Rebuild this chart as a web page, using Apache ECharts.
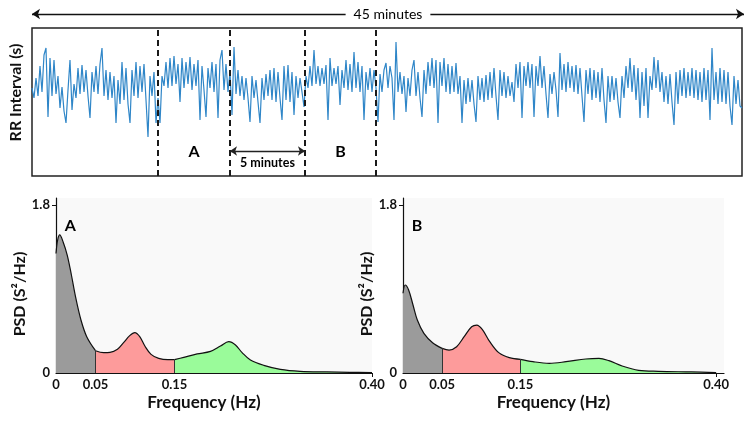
<!DOCTYPE html>
<html><head><meta charset="utf-8">
<script src="https://cdn.jsdelivr.net/npm/echarts@6/dist/echarts.min.js"></script>
<style>html,body{margin:0;padding:0;background:#fff}#c{width:750px;height:425px}</style>
</head><body><div id="c"></div>
<script>
// ---------- data ----------
const totalMinutes = 45;
const rrValues = [
88,78,98,80,110,84,121,128,59,118,
80,116,82,100,68,89,65,53,86,116,
66,92,78,108,82,111,84,106,80,58,
104,84,110,82,112,128,80,106,76,104,
78,100,53,96,72,114,76,108,72,53,
106,80,114,78,110,84,112,76,39,100,
80,104,53,78,53,100,90,114,88,118,
90,120,92,112,74,118,88,114,92,119,
86,112,90,116,56,110,86,59,108,88,
114,84,112,58,116,126,86,112,84,104,
61,129,82,106,80,100,76,98,78,54,
100,78,96,74,53,98,76,102,80,106,
76,108,74,104,78,56,110,76,111,74,
104,61,100,78,98,84,69,100,88,110,
90,126,92,110,90,108,92,111,56,118,
90,108,92,110,71,106,88,116,86,112,
84,124,88,114,84,110,56,104,86,108,
84,106,88,54,102,84,106,113,88,110,
98,56,134,84,104,82,100,64,98,80,
106,116,80,104,78,59,106,82,114,90,
118,88,116,53,114,90,118,84,112,82,
110,84,113,82,100,53,96,72,98,74,
96,72,54,100,76,98,74,101,76,104,
78,108,80,56,106,80,104,78,100,80,
94,74,112,88,114,58,110,90,114,88,
112,59,110,90,120,88,110,82,58,102,
82,104,86,59,123,86,112,84,114,88,
110,84,111,82,108,80,54,106,82,108,
76,106,78,104,74,108,76,53,100,74,
100,76,98,74,58,100,78,110,88,118,
84,111,76,108,58,104,70,108,58,100,
86,119,88,116,84,104,74,100,72,102,
74,51,104,72,106,80,108,78,104,80,
108,78,106,76,104,74,108,76,106,56,
128,76,104,72,108,74,106,72,104,70,
51,100,72,96,70,68];
const segmentBounds = [8.0, 12.55, 17.3, 21.8];   // minutes
const segmentNames = ['A', 'B'];
const headerText = '45 minutes';
const gapText = '5 minutes';

const freqA = [0,0.0021,0.0047,0.0089,0.0142,0.0195,0.0247,0.0316,0.0389,0.05,0.0604,0.0683,0.0778,0.0855,0.0933,0.0998,0.106,0.1125,0.1203,0.13,0.1415,0.15,0.1618,0.1787,0.1955,0.2082,0.2187,0.2272,0.2356,0.2461,0.263,0.284,0.309,0.343,0.372,0.40];
const psdA  = [1.28,1.425,1.479,1.407,1.264,1.05,0.818,0.568,0.389,0.239,0.218,0.221,0.254,0.325,0.40,0.432,0.389,0.289,0.20,0.157,0.143,0.143,0.168,0.204,0.232,0.289,0.336,0.30,0.218,0.139,0.082,0.039,0.018,0.011,0.007,0.004];
const freqB = [0,0.0028,0.0072,0.0128,0.0183,0.0267,0.0378,0.05,0.0588,0.0685,0.0781,0.0877,0.0942,0.1012,0.1108,0.1223,0.1358,0.15,0.166,0.1869,0.2082,0.2335,0.2503,0.263,0.2799,0.301,0.3263,0.3685,0.40];
const psdB  = [0.854,0.943,0.889,0.729,0.568,0.425,0.325,0.264,0.246,0.282,0.389,0.496,0.514,0.468,0.336,0.218,0.164,0.146,0.121,0.104,0.121,0.15,0.157,0.132,0.075,0.029,0.018,0.011,0.004];
const bandEdges = [0, 0.05, 0.15, 0.40];
const bandColors = ['#9b9b9b', '#fd9b9b', '#9afb9a'];
const xTickValues = [0, 0.05, 0.15, 0.40];
const yTickValues = [0, 1.8];

// ---------- build ----------
const FONT = 'Lato';
const stepMin = totalMinutes / (rrValues.length - 1);
const rrData = rrValues.map((v, i) => [i * stepMin, v]);
const mid = (a, b) => (a + b) / 2;
const HIDDEN = { color: 'rgba(0,0,0,0)', opacity: 1 };

const option = {
  animation: false,
  textStyle: { fontFamily: FONT },
  grid: [
    { left: 32, top: 28, width: 710, height: 148, show: true, borderColor: '#222', borderWidth: 1.5, backgroundColor: '#fff' },
    { left: 32, top: 4, width: 712, height: 20 },
    { left: 56, top: 198, width: 316, height: 175, show: true, backgroundColor: '#f9f9f9', borderWidth: 0 },
    { left: 403, top: 198, width: 321, height: 175, show: true, backgroundColor: '#f9f9f9', borderWidth: 0 }
  ],
  xAxis: [],
  yAxis: [],
  series: []
};

// top panel axes
option.xAxis.push({ type: 'value', gridIndex: 0, min: 0, max: totalMinutes, show: false });
option.yAxis.push({ type: 'value', gridIndex: 0, min: 0, max: 148, show: true,
  axisLine: { show: false }, axisTick: { show: false }, axisLabel: { show: false }, splitLine: { show: false },
  name: 'RR Interval (s)', nameLocation: 'middle', nameGap: 8,
  nameTextStyle: { fontSize: 16, fontWeight: 'bold', color: '#111', padding: [0, 0, 0, 19] } });
// header axes
option.xAxis.push({ type: 'value', gridIndex: 1, min: 0, max: totalMinutes, show: false });
option.yAxis.push({ type: 'value', gridIndex: 1, min: 0, max: 1, show: false });

function psdX(gi, max) {
  return { type: 'value', gridIndex: gi, min: 0, max: max,
    axisLine: { show: true, onZero: false, lineStyle: { color: '#111', width: 1.2 } },
    axisTick: { show: true, customValues: [0.40], length: 4, lineStyle: { color: '#111' } },
    axisLabel: { show: true, customValues: xTickValues, formatter: v => v === 0 ? '0' : v.toFixed(2),
      color: '#111', fontWeight: 'bold', fontSize: 13, margin: 5 },
    splitLine: { show: false },
    name: 'Frequency (Hz)', nameLocation: 'middle', nameGap: 21,
    nameTextStyle: { fontSize: 17, fontWeight: 'bold', color: '#111', padding: [0, 20, 0, 0] } };
}
function psdY(gi) {
  return { type: 'value', gridIndex: gi, min: 0, max: 1.875,
    axisLine: { show: true, onZero: false, lineStyle: { color: '#111', width: 1.2 } },
    axisTick: { show: true, customValues: [1.8], length: 4, lineStyle: { color: '#111' } },
    axisLabel: { show: true, customValues: yTickValues, formatter: v => v === 0 ? '0' : v.toFixed(1),
      color: '#111', fontWeight: 'bold', fontSize: 13, margin: 6 },
    splitLine: { show: false },
    name: 'PSD (S\u00B2/Hz)', nameLocation: 'middle', nameGap: 10,
    nameTextStyle: { fontSize: 16, fontWeight: 'bold', color: '#111', padding: [0, 17, 0, 0] } };
}
option.xAxis.push(psdX(2, 0.40));
option.yAxis.push(psdY(2));
option.xAxis.push(psdX(3, 0.41));
option.yAxis.push(psdY(3));

// RR trace with dashed segment bounds
option.series.push({
  type: 'line', xAxisIndex: 0, yAxisIndex: 0, data: rrData, symbol: 'none', silent: true, z: 2,
  lineStyle: { color: '#2f86c8', width: 1.2 },
  markLine: { silent: true, symbol: 'none', label: { show: false }, animation: false,
    lineStyle: { color: '#1a1a1a', width: 2, type: [6, 4] },
    data: segmentBounds.map(t => ({ xAxis: t })) }
});
// 5-minute double arrow
option.series.push({
  type: 'line', xAxisIndex: 0, yAxisIndex: 0, data: [[segmentBounds[1], 25]], symbol: 'none', silent: true,
  markLine: { silent: true, symbol: ['arrow', 'arrow'], symbolSize: 7, label: { show: false }, animation: false,
    lineStyle: { color: '#222', width: 1.3, type: 'solid' },
    data: [[{ coord: [segmentBounds[1], 25] }, { coord: [segmentBounds[2], 25] }]] }
});
// top-panel text labels
option.series.push({
  type: 'scatter', xAxisIndex: 0, yAxisIndex: 0, symbolSize: 1, silent: true, z: 5,
  itemStyle: HIDDEN,
  label: { show: true, position: 'inside', formatter: '{b}', color: '#000', fontWeight: 'bold', fontSize: 16, opacity: 1 },
  data: [
    { name: segmentNames[0], value: [mid(segmentBounds[0], segmentBounds[1]), 24] },
    { name: segmentNames[1], value: [mid(segmentBounds[2], segmentBounds[3]), 24] },
    { name: gapText, value: [mid(segmentBounds[1], segmentBounds[2]), 13], label: { fontSize: 12.5 } }
  ]
});
// header arrow
option.series.push({
  type: 'line', xAxisIndex: 1, yAxisIndex: 1, data: [[0, 0.5]], symbol: 'none', silent: true,
  markLine: { silent: true, symbol: ['arrow', 'arrow'], symbolSize: 8, label: { show: false }, animation: false,
    lineStyle: { color: '#111', width: 1.3, type: 'solid' },
    data: [[{ coord: [0, 0.5] }, { coord: [totalMinutes, 0.5] }]] }
});
option.series.push({
  type: 'scatter', xAxisIndex: 1, yAxisIndex: 1, symbolSize: 1, silent: true, z: 10,
  itemStyle: HIDDEN,
  label: { show: true, position: 'inside', formatter: '{b}', color: '#000', fontSize: 14, opacity: 1,
    backgroundColor: '#fff', padding: [1, 8] },
  data: [{ name: headerText, value: [totalMinutes / 2, 0.5] }]
});

// PSD panels
function addPsd(freqs, vals, idx, name) {
  for (let b = 0; b < 3; b++) {
    const lo = bandEdges[b], hi = bandEdges[b + 1];
    const d = [];
    freqs.forEach((f, i) => { if (f >= lo - 1e-9 && f <= hi + 1e-9) d.push([f, vals[i]]); });
    const s = {
      type: 'line', xAxisIndex: idx, yAxisIndex: idx, data: d, symbol: 'none', smooth: 0.35, silent: true,
      lineStyle: { color: '#111', width: 1.2 },
      areaStyle: { color: bandColors[b], opacity: 1 }
    };
    if (b < 2) {
      const edgeVal = d[d.length - 1][1];
      s.markLine = { silent: true, symbol: 'none', label: { show: false }, animation: false,
        lineStyle: { color: '#333', width: 1, type: 'solid' },
        data: [[{ coord: [hi, 0] }, { coord: [hi, edgeVal] }]] };
    }
    option.series.push(s);
  }
  option.series.push({
    type: 'scatter', xAxisIndex: idx, yAxisIndex: idx, symbolSize: 1, silent: true, z: 5,
    itemStyle: HIDDEN,
    label: { show: true, position: 'inside', formatter: '{b}', color: '#000', fontWeight: 'bold', fontSize: 16, opacity: 1 },
    data: [{ name: name, value: [0.018, 1.575] }]
  });
}
addPsd(freqA, psdA, 2, segmentNames[0]);
addPsd(freqB, psdB, 3, segmentNames[1]);

const chart = echarts.init(document.getElementById('c'), null, { renderer: 'canvas' });
chart.setOption(option);
</script>
</body></html>
